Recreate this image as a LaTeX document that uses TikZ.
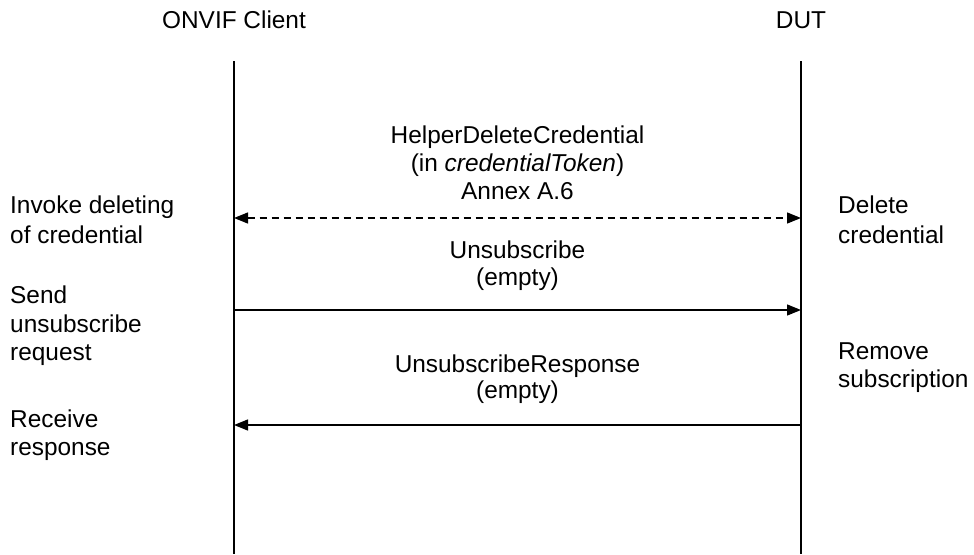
\documentclass[tikz,border=0pt]{standalone}
\usepackage{fontspec}
\setmainfont{Liberation Sans}
\usetikzlibrary{arrows.meta}
\begin{document}
\begin{tikzpicture}[x=1pt,y=-1pt,
  txt/.style={inner sep=0pt,font=\fontsize{24.4}{28}\selectfont},
  tc/.style={txt,anchor=base},
  tl/.style={txt,anchor=base west},
  life/.style={line width=1.3pt},
  msg/.style={line width=1.3pt,-{Triangle[length=14pt,width=11pt]}},
  dmsg/.style={line width=1.3pt,dash pattern=on 7pt off 5pt,{Triangle[length=14pt,width=11pt]}-{Triangle[length=14pt,width=11pt]}}]
\useasboundingbox (0,0) rectangle (974,554);
% headers
\node[tc] (client) at (234,28) {ONVIF Client};
\node[tc] (dut) at (801,28) {DUT};
% lifelines
\coordinate (ct) at (234,61);
\coordinate (cb) at (234,554);
\coordinate (dt) at (801,61);
\coordinate (db) at (801,554);
\draw[life] (ct) -- (cb);
\draw[life] (dt) -- (db);
% message points
\coordinate (c1) at (234,218);
\coordinate (d1) at (801,218);
\coordinate (c2) at (234,310);
\coordinate (d2) at (801,310);
\coordinate (c3) at (234,425);
\coordinate (d3) at (801,425);
\draw[dmsg] (c1) -- (d1);
\draw[msg] (c2) -- (d2);
\draw[msg] (d3) -- (c3);
% message labels
\node[tc] (m1a) at (517.5,143) {HelperDeleteCredential};
\node[tc] (m1b) at (517.5,171) {(in \textit{credentialToken})};
\node[tc] (m1c) at (517.5,199) {Annex A.6};
\node[tc] (m2a) at (517.5,258) {Unsubscribe};
\node[tc] (m2b) at (517.5,285) {(empty)};
\node[tc] (m3a) at (517.5,372) {UnsubscribeResponse};
\node[tc] (m3b) at (517.5,398) {(empty)};
% side notes
\node[tl] (n1a) at (10,213) {Invoke deleting};
\node[tl] (n1b) at (10,243) {of credential};
\node[tl] (n2a) at (838,213) {Delete};
\node[tl] (n2b) at (838,243) {credential};
\node[tl] (n3a) at (10,303) {Send};
\node[tl] (n3b) at (10,332) {unsubscribe};
\node[tl] (n3c) at (10,360) {request};
\node[tl] (n4a) at (838,359) {Remove};
\node[tl] (n4b) at (838,387) {subscription};
\node[tl] (n5a) at (10,427) {Receive};
\node[tl] (n5b) at (10,455) {response};
\end{tikzpicture}
\end{document}
